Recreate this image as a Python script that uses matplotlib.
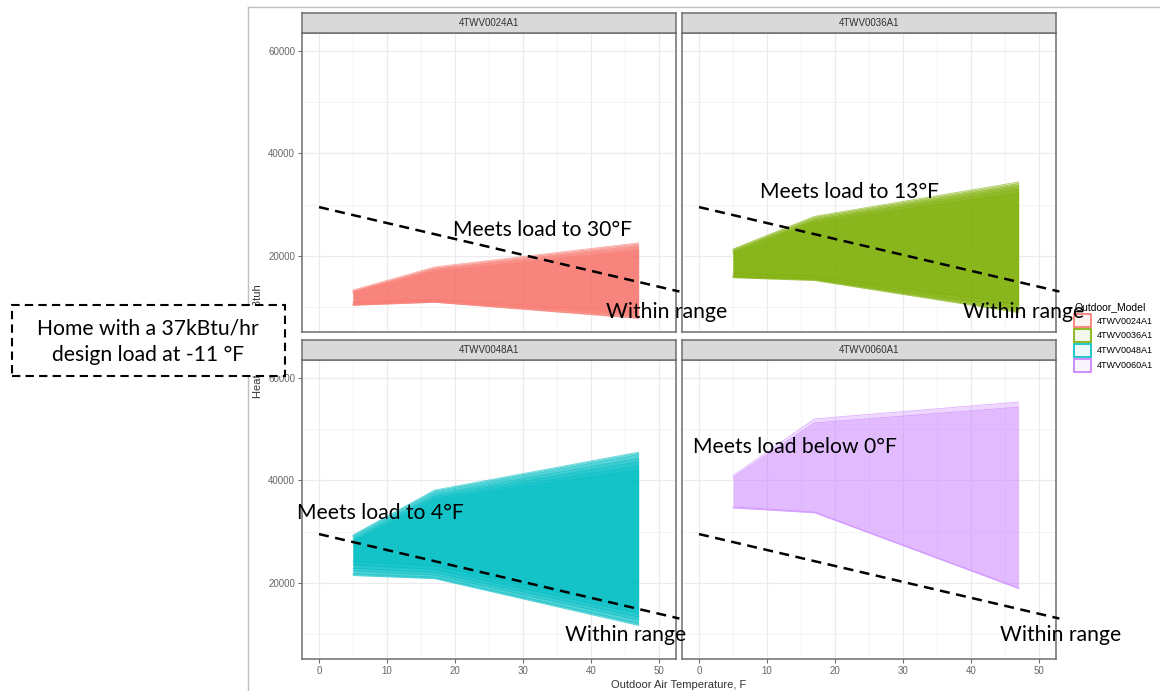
import matplotlib
matplotlib.use("Agg")
import matplotlib.pyplot as plt
from matplotlib.patches import Patch, Rectangle
from matplotlib.colors import to_rgba

# capacity curves: temperatures (F) and per-model ribbons (low / high Btuh)
temps = [5, 17, 47]
models = ["4TWV0024A1", "4TWV0036A1", "4TWV0048A1", "4TWV0060A1"]
colors = ["#F8766D", "#7CAE00", "#00BFC4", "#C77CFF"]

low_0024 = [[10300, 10900, 7750], [10500, 11100, 8100], [10800, 11300, 8600],
            [10400, 10950, 7900], [11000, 11500, 9000], [10600, 11200, 8300]]
high_0024 = [[13300, 17800, 22500], [13000, 17400, 22000], [12800, 17000, 21200],
             [13100, 17600, 22300], [12600, 16800, 20800], [12900, 17300, 21700]]

low_0036 = [[15700, 15150, 8900], [15900, 15400, 9300], [16200, 15700, 9900],
            [15800, 15300, 9100], [16500, 16000, 10500], [16000, 15500, 9600]]
high_0036 = [[21300, 27700, 34400], [21000, 27300, 33800], [20700, 26800, 33000],
             [21200, 27500, 34100], [20400, 26400, 32300], [20900, 27000, 33500]]

low_0048 = [[21400, 20800, 11650], [21800, 21100, 12100], [22300, 21500, 12700],
            [22800, 22000, 13300], [23500, 22600, 14000], [21600, 20950, 11900],
            [24200, 23300, 14800]]
high_0048 = [[29300, 38100, 45500], [29000, 37700, 45000], [28700, 37300, 44300],
             [28400, 36900, 43600], [28100, 36500, 42800], [29200, 37900, 45300],
             [27800, 36000, 42000]]

low_0060 = [[34600, 33650, 18850], [34800, 33800, 19000]]
high_0060 = [[40900, 52000, 55300], [40500, 51200, 54300]]

lows = [low_0024, low_0036, low_0048, low_0060]
highs = [high_0024, high_0036, high_0048, high_0060]

# design load line of the home
load_temps = [0, 53]
load_btuh = [29500, 13000]

notes = ["Meets load to 30°F", "Meets load to 13°F",
         "Meets load to 4°F", "Meets load below 0°F"]

W, H = 1160, 691


def rect(x0, y0, x1, y1):
    return [x0 / W, 1 - y1 / H, (x1 - x0) / W, (y1 - y0) / H]


def fx(x):
    return x / W


def fy(y):
    return 1 - y / H


def facet(fig, box, name, left, bottom):
    x0, y0, x1, y1 = box
    ax = fig.add_axes(rect(x0, y0, x1, y1))
    ax.set_xlim(-2.5, 52.5)
    ax.set_ylim(5100, 63500)
    ax.set_xticks([0, 10, 20, 30, 40, 50])
    ax.set_xticks([5, 15, 25, 35, 45], minor=True)
    ax.set_yticks([20000, 40000, 60000])
    ax.set_yticks([10000, 30000, 50000], minor=True)
    ax.grid(True, which="major", color="#EBEBEB", lw=0.9)
    ax.grid(True, which="minor", color="#F2F2F2", lw=0.6)
    ax.set_axisbelow(True)
    for s in ax.spines.values():
        s.set_color("#6e6e6e")
        s.set_linewidth(1.1)
    ax.tick_params(which="minor", length=0)
    ax.tick_params(which="major", length=3, color="#6e6e6e",
                   labelsize=7, labelcolor="#666666", pad=2)
    if not left:
        ax.tick_params(axis="y", length=0, labelleft=False)
    if not bottom:
        ax.tick_params(axis="x", length=0, labelbottom=False)

    strip = fig.add_axes(rect(x0, y0 - 20, x1, y0))
    strip.set_facecolor("#D9D9D9")
    strip.set_xticks([])
    strip.set_yticks([])
    for s in strip.spines.values():
        s.set_color("#6e6e6e")
        s.set_linewidth(1.1)
    strip.text(0.5, 0.5, name, ha="center", va="center",
               fontsize=7, color="#333333", transform=strip.transAxes)
    return ax


def main():
    plt.rcParams["font.family"] = ["Liberation Sans", "DejaVu Sans"]
    fig = plt.figure(figsize=(W / 100, H / 100), dpi=100)

    # frame of the inserted chart
    fig.add_artist(plt.Line2D([fx(248), fx(248)], [fy(7), 0], color="#BFBFBF", lw=1))
    fig.add_artist(plt.Line2D([fx(248), 1], [fy(7), fy(7)], color="#BFBFBF", lw=1))

    boxes = [(302, 33, 676, 332), (682, 33, 1056, 332),
             (302, 360, 676, 659), (682, 360, 1056, 659)]
    for i, name in enumerate(models):
        ax = facet(fig, boxes[i], name, left=i % 2 == 0, bottom=i >= 2)
        for lo, hi in zip(lows[i], highs[i]):
            ax.fill_between(temps, lo, hi, color=colors[i], alpha=0.3, lw=0)
            ax.plot(temps, lo, color=colors[i], lw=0.6, alpha=0.6)
            ax.plot(temps, hi, color=colors[i], lw=0.6, alpha=0.6)
        ax.plot(load_temps, load_btuh, color="black", lw=1.8,
                dashes=(4, 2.6), clip_on=False, zorder=5)

    fig.text(fx(679), fy(685), "Outdoor Air Temperature, F", ha="center",
             va="center", fontsize=8, color="#333333")
    fig.text(fx(258), fy(341), "Heating Capacity, Btuh", ha="center",
             va="center", rotation=90, fontsize=8, color="#333333")

    handles = [Patch(facecolor=to_rgba(c, 0.08), edgecolor=c, lw=1.2) for c in colors]
    fig.legend(handles, models, title="Outdoor_Model", loc="upper left",
               bbox_to_anchor=(fx(1068), fy(296)), frameon=False, fontsize=6.5,
               title_fontsize=7.5, handlelength=1.9, handleheight=1.85,
               labelspacing=0.2, handletextpad=0.6, borderpad=0.2,
               alignment="left")

    # callouts
    note_font = dict(family=["Lato", "DejaVu Sans"], fontsize=15.2, color="black")
    note_pos = [(453, 230), (760, 192), (297, 513), (693, 447)]
    range_pos = [(606, 312), (963, 312), (565, 635), (1000, 635)]
    for (x, y), t in zip(note_pos, notes):
        fig.text(fx(x), fy(y), t, ha="left", va="center", zorder=10, **note_font)
    for x, y in range_pos:
        fig.text(fx(x), fy(y), "Within range", ha="left", va="center",
                 zorder=10, **note_font)

    fig.add_artist(Rectangle((fx(12), fy(376)), fx(285) - fx(12), fy(305) - fy(376),
                             transform=fig.transFigure, facecolor="white",
                             edgecolor="black", lw=1.5, ls=(0, (4, 2.5)), zorder=8))
    fig.text(fx(148), fy(342), "Home with a 37kBtu/hr\ndesign load at -11 °F",
             ha="center", va="center", linespacing=1.4, zorder=10, **note_font)

    fig.savefig("out.png", dpi=100, facecolor="white")


if __name__ == "__main__":
    main()
